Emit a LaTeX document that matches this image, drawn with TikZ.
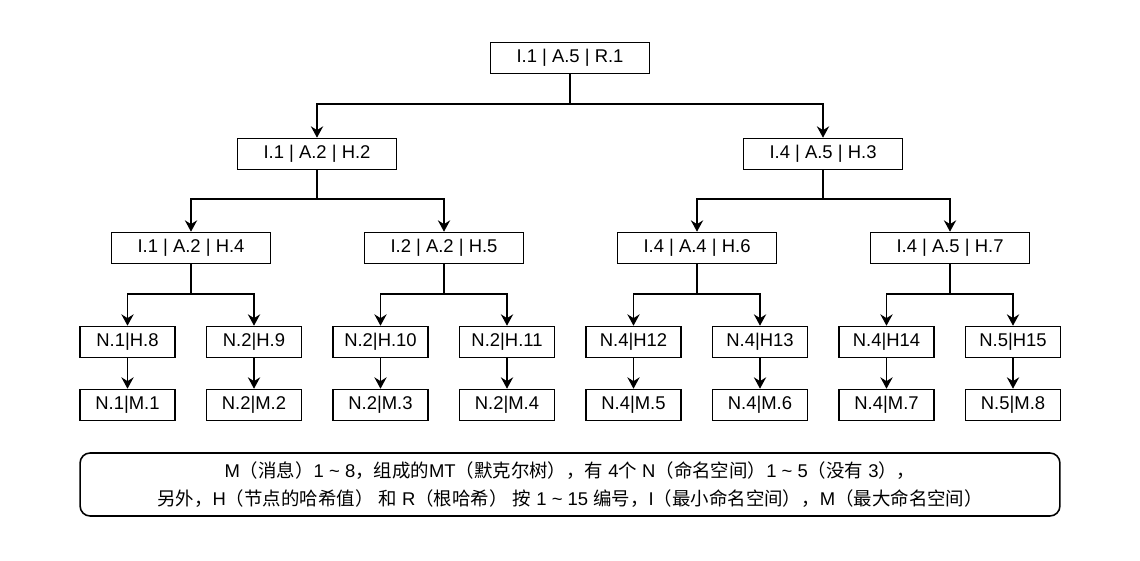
\documentclass[tikz,border=0pt]{standalone}
\usepackage{fontspec}
\setmainfont{Liberation Sans}
\newfontfamily\cjk{Noto Sans CJK SC}
\usetikzlibrary{arrows.meta}
\begin{document}
\begin{tikzpicture}[x=0.02cm,y=-0.02cm,
    font=\fontsize{10.5}{16}\selectfont,
    box/.style={draw,line width=0.9pt,minimum width=3.18cm,minimum height=0.62cm,inner sep=0pt},
    leaf/.style={box,minimum width=1.9cm},
    arr/.style={line width=0.9pt,-{Stealth[length=6.5pt,width=7pt,inset=2.2pt]}}]
  \useasboundingbox (0,0) rectangle (1140,561);
  % root
  \node[box] at (570,58) (R) {I.1 | A.5 | R.1};
  % first level
  \node[box] at (317,154) (A1) {I.1 | A.2 | H.2};
  \node[box] at (823,154) (A2) {I.4 | A.5 | H.3};
  \draw[arr] (R.south) -- ++(0,30) -| (A1.north);
  \draw[arr] (R.south) -- ++(0,30) -| (A2.north);
  % second level
  \node[box] at (191,248) (B1) {I.1 | A.2 | H.4};
  \node[box] at (444,248) (B2) {I.2 | A.2 | H.5};
  \node[box] at (697,248) (B3) {I.4 | A.4 | H.6};
  \node[box] at (950,248) (B4) {I.4 | A.5 | H.7};
  \draw[arr] (A1.south) -- ++(0,29) -| (B1.north);
  \draw[arr] (A1.south) -- ++(0,29) -| (B2.north);
  \draw[arr] (A2.south) -- ++(0,29) -| (B3.north);
  \draw[arr] (A2.south) -- ++(0,29) -| (B4.north);
  % leaves
  \node[leaf] at (127.5,342) (C1) {N.1|H.8};
  \node[leaf] at (254,342) (C2) {N.2|H.9};
  \node[leaf] at (380.5,342) (C3) {N.2|H.10};
  \node[leaf] at (507,342) (C4) {N.2|H.11};
  \node[leaf] at (633.5,342) (C5) {N.4|H12};
  \node[leaf] at (760,342) (C6) {N.4|H13};
  \node[leaf] at (886.5,342) (C7) {N.4|H14};
  \node[leaf] at (1013,342) (C8) {N.5|H15};
  \draw[arr] (B1.south) -- ++(0,30) -| (C1.north);
  \draw[arr] (B1.south) -- ++(0,30) -| (C2.north);
  \draw[arr] (B2.south) -- ++(0,30) -| (C3.north);
  \draw[arr] (B2.south) -- ++(0,30) -| (C4.north);
  \draw[arr] (B3.south) -- ++(0,30) -| (C5.north);
  \draw[arr] (B3.south) -- ++(0,30) -| (C6.north);
  \draw[arr] (B4.south) -- ++(0,30) -| (C7.north);
  \draw[arr] (B4.south) -- ++(0,30) -| (C8.north);
  % messages
  \node[leaf] at (127.5,405) (D1) {N.1|M.1};
  \node[leaf] at (254,405) (D2) {N.2|M.2};
  \node[leaf] at (380.5,405) (D3) {N.2|M.3};
  \node[leaf] at (507,405) (D4) {N.2|M.4};
  \node[leaf] at (633.5,405) (D5) {N.4|M.5};
  \node[leaf] at (760,405) (D6) {N.4|M.6};
  \node[leaf] at (886.5,405) (D7) {N.4|M.7};
  \node[leaf] at (1013,405) (D8) {N.5|M.8};
  \draw[arr] (C1) -- (D1);
  \draw[arr] (C2) -- (D2);
  \draw[arr] (C3) -- (D3);
  \draw[arr] (C4) -- (D4);
  \draw[arr] (C5) -- (D5);
  \draw[arr] (C6) -- (D6);
  \draw[arr] (C7) -- (D7);
  \draw[arr] (C8) -- (D8);
  % note
  \node[box,rounded corners=0.2cm,minimum width=19.6cm,minimum height=1.26cm,align=center] at (570,484.5) (T)
    {M{\cjk（消息）}1 \textasciitilde\ 8{\cjk，组成的}MT{\cjk（默克尔树），有} 4{\cjk 个} N{\cjk（命名空间）}1 \textasciitilde\ 5{\cjk（没有} 3{\cjk ），}\\
     {\cjk 另外，}H{\cjk（节点的哈希值）} {\cjk 和} R{\cjk（根哈希）} {\cjk 按} 1 \textasciitilde\ 15 {\cjk 编号，}I{\cjk（最小命名空间），}M{\cjk（最大命名空间）}};
\end{tikzpicture}
\end{document}
